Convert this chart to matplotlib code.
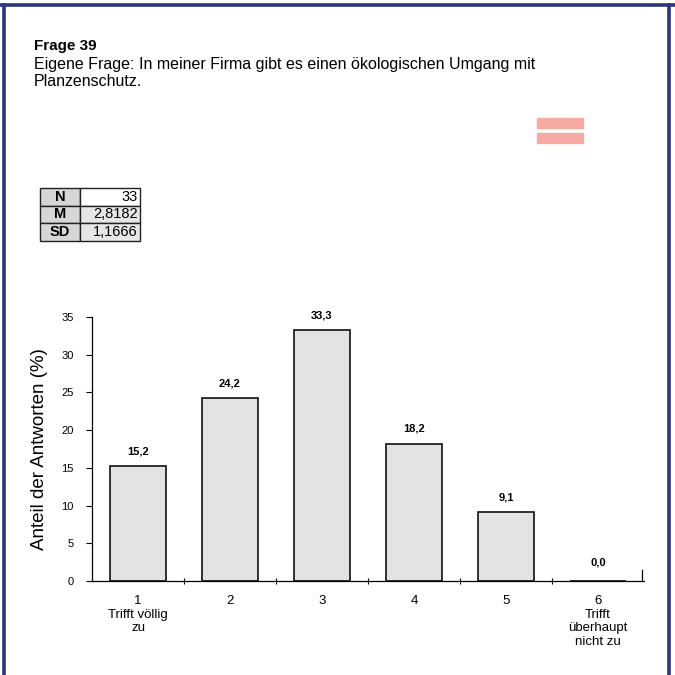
import matplotlib
matplotlib.use("Agg")
import matplotlib.pyplot as plt
from matplotlib.lines import Line2D
from matplotlib.patches import Rectangle

plt.rcParams['font.family'] = ['Liberation Sans', 'DejaVu Sans']

categories = [1, 2, 3, 4, 5, 6]
tick_labels = ["1\nTrifft völlig\nzu", "2", "3", "4", "5", "6\nTrifft\nüberhaupt\nnicht zu"]
values = [15.2, 24.2, 33.3, 18.2, 9.1, 0.0]
value_labels = ["15,2", "24,2", "33,3", "18,2", "9,1", "0,0"]
stat_names = ["N", "M", "SD"]
stat_values = ["33", "2,8182", "1,1666"]
yticks = [0, 5, 10, 15, 20, 25, 30, 35]

W = H = 675
fig = plt.figure(figsize=(6.75, 6.75), dpi=100)
fig.patch.set_facecolor("white")

def fx(px):
    return px / W

def fy(py):
    return 1 - py / H

# Frame
navy = "#2e3477"
fig.add_artist(Line2D([0, 1], [fy(5), fy(5)], color=navy, lw=2.6))
fig.add_artist(Line2D([fx(4), fx(4)], [0, fy(5)], color=navy, lw=2.6))
fig.add_artist(Line2D([fx(669), fx(669)], [0, fy(5)], color=navy, lw=2.6))

# Titles
fig.text(fx(34), fy(46), "Frage 39", fontsize=11, fontweight="bold", va="center", ha="left")
fig.text(fx(34), fy(64), "Eigene Frage: In meiner Firma gibt es einen ökologischen Umgang mit",
         fontsize=11.5, va="center", ha="left")
fig.text(fx(34), fy(82), "Planzenschutz.", fontsize=11.5, va="center", ha="left")

# Pink symbol
pink = "#f6aaa2"
fig.add_artist(Rectangle((fx(537), fy(128)), fx(46), 10 / H, color=pink, transform=fig.transFigure))
fig.add_artist(Rectangle((fx(537), fy(143)), fx(46), 10 / H, color=pink, transform=fig.transFigure))

# Stats table
tax = fig.add_axes([fx(40), fy(241), fx(100), 53 / H])
tax.axis("off")
cell_text = [[n, v] for n, v in zip(stat_names, stat_values)]
tbl = tax.table(cellText=cell_text, bbox=[0, 0, 1, 1], colWidths=[0.4, 0.6])
tbl.auto_set_font_size(False)
for (r, c), cell in tbl.get_celld().items():
    cell.set_edgecolor("#222222")
    cell.set_linewidth(1.0)
    cell.get_text().set_fontsize(10.5)
    if c == 0:
        cell.set_facecolor("#d6d6d6")
        cell.get_text().set_fontweight("bold")
        cell.get_text().set_ha("center")
    else:
        cell.set_facecolor("white" if r == 0 else "#e6e6e6")
        cell.get_text().set_ha("right")
        cell.PAD = 0.04

# Bar chart
ax = fig.add_axes([fx(92), fy(581), fx(552), (581 - 317) / H])
bars = ax.bar(categories, values, width=0.6, color="#e4e2e2", edgecolor="#111111", linewidth=1.2)
for x, v, lab in zip(categories, values, value_labels):
    ax.annotate(lab, (x, v), xytext=(0, 7 if v > 0 else 10), textcoords="offset points",
                ha="center", va="bottom", fontsize=8, fontweight="bold")

ax.set_xlim(0.5, 6.5)
ax.set_ylim(0, 35)
ax.set_yticks(yticks)
ax.set_yticklabels([str(t) for t in yticks], fontsize=8)
ax.set_xticks(categories)
ax.set_xticklabels(tick_labels, fontsize=9.5, linespacing=1.2, va="top")
ax.tick_params(axis="x", length=0, pad=10)
ax.set_xticks([1.5, 2.5, 3.5, 4.5, 5.5], minor=True)
ax.tick_params(axis="x", which="minor", length=4, direction="inout", width=0.8)
ax.tick_params(axis="y", length=4, width=0.8, direction="out", pad=9)
for s in ["top", "right"]:
    ax.spines[s].set_visible(False)
ax.spines["left"].set_linewidth(0.9)
ax.spines["bottom"].set_linewidth(0.9)
ax.plot([6.48, 6.48], [0, 1.5], color="black", lw=0.9, clip_on=False)
ax.set_ylabel("Anteil der Antworten (%)", fontsize=13.5, labelpad=10)

fig.savefig("out.png", dpi=100, facecolor="white")
